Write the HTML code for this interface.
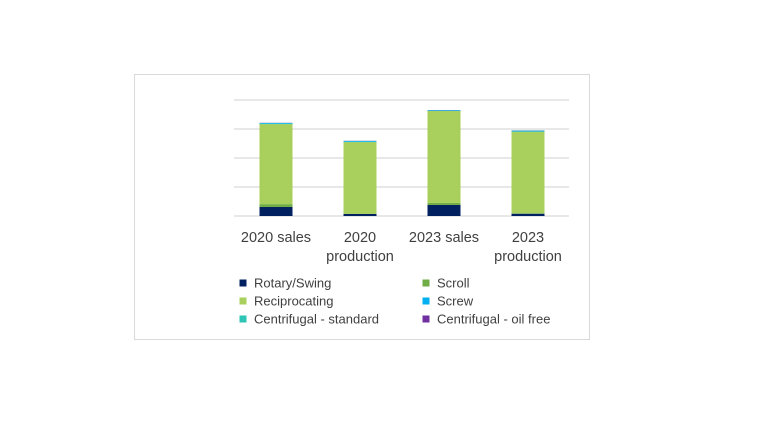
<!DOCTYPE html>
<html><head><meta charset="utf-8"><style>
body{margin:0;background:#fff;width:760px;height:438px;overflow:hidden}
svg text{font-family:"Liberation Sans",sans-serif;fill:#404040}
</style></head><body>
<svg width="760" height="438">
<rect x="134.5" y="74.5" width="455" height="265" fill="#fff" stroke="#d9d9d9"/>
<g id="grid"></g><g id="bars"></g><g id="cats"></g><g id="legend"></g>
</svg>
<script>
const categories=[["2020 sales"],["2020","production"],["2023 sales"],["2023","production"]];
const seriesNames=["Rotary/Swing","Scroll","Reciprocating","Screw","Centrifugal  - standard","Centrifugal  - oil free"];
const colors=["#002060","#70ad47","#a9d05c","#00b0f0","#2ec4b6","#7030a0"];
const rotary=[0.31,0.07,0.38,0.08];
const scroll=[0.1,0.01,0.07,0.01];
const reciprocating=[2.76,2.47,3.17,2.82];
const screw=[0.03,0.03,0.02,0.03];
const centStd=[0.01,0.01,0.01,0.01];
const centOil=[0.005,0.005,0.005,0.005];
const gridTicks=[0,1,2,3,4];
const series=[rotary,scroll,reciprocating,screw,centStd,centOil];
const NS="http://www.w3.org/2000/svg";
const y=v=>216-v*29, xc=i=>276+i*84, bw=33;
function mk(t,a,p){const e=document.createElementNS(NS,t);for(const k in a)e.setAttribute(k,a[k]);p.appendChild(e);return e;}
const g=document.getElementById('grid');
gridTicks.forEach(t=>{const l=mk('line',{x1:234,x2:569,y1:y(t),y2:y(t),stroke:'#d9d9d9','stroke-width':1.2},g);

});
const b=document.getElementById('bars');
categories.forEach((c,i)=>{let acc=0;series.forEach((s,j)=>{const r=mk('rect',{x:xc(i)-bw/2,y:y(acc+s[i]),width:bw,height:s[i]*29,fill:colors[j]},b);

acc+=s[i];});});
const cg=document.getElementById('cats');
categories.forEach((c,i)=>{c.forEach((ln,k)=>{const t=mk('text',{x:xc(i),y:242+k*19,'text-anchor':'middle','font-size':14.5},cg);t.textContent=ln;

});});
const lg=document.getElementById('legend');
seriesNames.forEach((n,j)=>{const lx=j%2?426:243, ly=283+Math.floor(j/2)*18;
const e=mk('g',{},lg);


mk('rect',{x:lx-3.5,y:ly-3.5,width:7,height:7,fill:colors[j]},e);
const t=mk('text',{x:lx+11,y:ly+4.5,'font-size':13},e);t.textContent=n;});
</script>
</body></html>
